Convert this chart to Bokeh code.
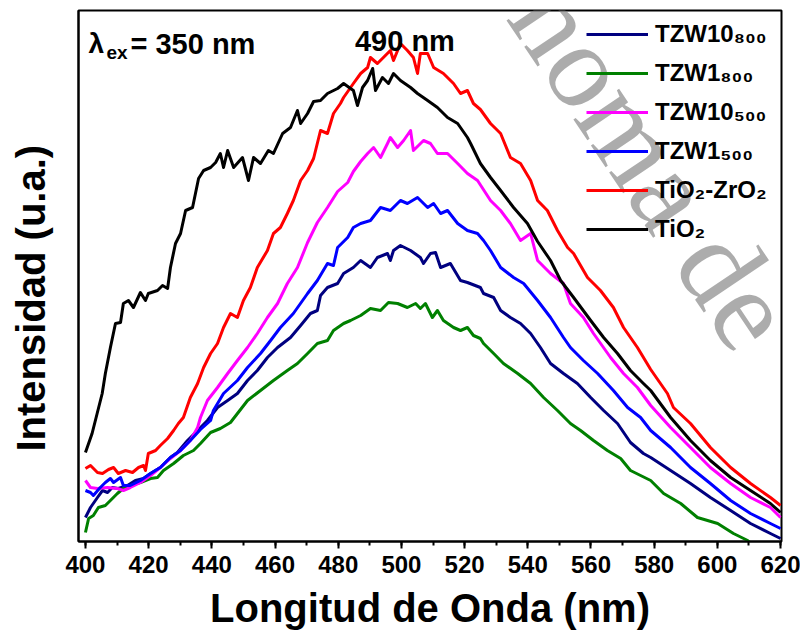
import math
from bokeh.plotting import figure
from bokeh.models import Range1d, SingleIntervalTicker, FixedTicker, Label, Legend, LegendItem
from bokeh.embed import file_html
from bokeh.resources import INLINE

# ---- data (wavelength nm, intensity a.u.) ----
wl_tio2 = [400, 402.1, 403.7, 405.3, 406.3, 407.9, 409.5, 411.1, 412, 413.6, 415.2, 417.4, 419, 419.9, 422.8, 424.4, 426, 426.9, 428.5, 430.1, 431.7, 433.9, 435.8, 437.4, 439.6, 441.2, 442.7, 443.7, 445, 446.9, 449.7, 451.6, 453.2, 455.4, 457.9, 459.5, 462.4, 464.9, 467.1, 468.1, 470.3, 472.2, 474.4, 476.6, 479.8, 481.7, 484.8, 486.1, 487.7, 489.3, 490.9, 491.8, 494, 495.9, 497.5, 499.7, 502.9, 505.1, 508.3, 511.4, 514.6, 517.8, 520.9, 521.9, 525, 528.2, 531.4, 535.5, 539.9, 543.1, 547.2, 550.4, 554.5, 559.9, 564, 568.4, 572.5, 576.6, 578.9, 585.2, 591.5, 597.8, 604.2, 610.5, 616.8, 620]
int_tio2 = [89, 108, 128, 148, 168, 194, 218, 219, 238, 241, 234, 249, 241, 248, 251, 256, 253, 274, 298, 308, 331, 334, 363, 371, 374, 379, 388, 374, 391, 374, 384, 361, 384, 378, 391, 388, 408, 414, 431, 418, 428, 440, 441, 448, 453, 458, 451, 436, 454, 461, 473, 451, 464, 458, 468, 461, 454, 448, 441, 434, 424, 418, 404, 398, 378, 364, 351, 334, 318, 300, 281, 261, 244, 221, 204, 188, 171, 158, 151, 124, 101, 81, 64, 51, 38, 29]

wl_tizr = [400, 401.6, 403.8, 405.4, 407.3, 408.9, 410.4, 412.7, 414.9, 416.8, 418.4, 419, 419.9, 422.2, 423.7, 426, 427.9, 429.4, 431, 433.2, 435.5, 437.4, 439.6, 441.8, 443.7, 445.9, 448.1, 450, 452.2, 454.4, 457.6, 459.5, 461.7, 463.9, 465.8, 468.1, 470.3, 472.2, 474.4, 476.6, 478.5, 480.7, 481.7, 484.8, 487.1, 489.3, 490.2, 492.4, 494.3, 496.5, 497.5, 499.7, 501.9, 503.8, 505.1, 506, 508.3, 510.2, 513.3, 516.5, 518.7, 520.9, 522.8, 525, 528.2, 531.4, 534.5, 537.7, 540.9, 543.1, 546.2, 549.4, 552.6, 554.5, 558.9, 563, 567.1, 570.3, 574.7, 578.9, 584.2, 586.1, 591.5, 597.8, 604.2, 610.5, 616.8, 620]
int_tizr = [73, 76, 69, 68, 72, 74, 68, 71, 69, 74, 76, 71, 88, 91, 96, 103, 111, 118, 124, 144, 158, 174, 188, 198, 214, 228, 224, 241, 254, 274, 291, 308, 314, 328, 341, 361, 371, 383, 411, 408, 428, 438, 444, 458, 468, 474, 484, 478, 484, 491, 481, 498, 491, 484, 468, 488, 488, 474, 468, 458, 448, 451, 438, 432, 418, 408, 384, 378, 361, 341, 331, 311, 294, 288, 264, 251, 234, 214, 194, 172, 148, 134, 118, 94, 74, 58, 44, 36]

wl_tzw10_500 = [400, 401.6, 403.8, 407, 410.1, 412, 414.2, 417.4, 420.6, 423.7, 426.9, 430.1, 433.2, 435.5, 436.4, 438.6, 441.8, 445, 448.1, 451.3, 454.4, 457.6, 460.8, 463.9, 467.1, 470.3, 473.4, 476.6, 479.8, 483, 484.8, 487.1, 489.3, 491.2, 493.4, 495.6, 496.5, 498.8, 500.7, 502.9, 503.8, 507, 509.2, 511.4, 514.6, 517.8, 520.9, 524.1, 528.2, 531.4, 534.5, 537.7, 540.9, 543.1, 547.2, 551.3, 553.5, 557.6, 560.8, 566.2, 570.3, 574.7, 578.9, 585.2, 591.5, 597.8, 604.2, 610.5, 616.8, 620]
int_tzw10_500 = [61, 54, 53, 54, 53, 51, 54, 59, 66, 74, 83, 91, 101, 114, 124, 141, 154, 168, 181, 194, 208, 224, 238, 258, 274, 299, 319, 334, 350, 359, 370, 380, 388, 394, 384, 398, 404, 394, 401, 411, 391, 401, 398, 388, 388, 378, 368, 361, 341, 331, 318, 301, 308, 281, 268, 258, 238, 224, 208, 184, 168, 154, 136, 114, 94, 74, 58, 44, 34, 24]

wl_tzw1_500 = [400, 401.6, 402.5, 404.7, 406.3, 407.9, 408.9, 411.1, 412, 414.2, 417.4, 420.6, 423.7, 426.9, 430.1, 433.2, 436.4, 439.6, 440.5, 443.7, 448.1, 451.3, 455.4, 458.6, 461.7, 465.8, 470.3, 473.4, 476.6, 478.5, 479.8, 483, 484.8, 487.1, 490.2, 493.4, 496.5, 499.7, 501.9, 505.1, 508.3, 510.2, 512.4, 514.6, 517.8, 520.9, 524.1, 526, 528.2, 531.4, 535.5, 538.7, 543.1, 547.2, 551.3, 553.5, 557.6, 562.1, 567.1, 571.6, 575.7, 578.9, 585.2, 591.5, 597.8, 604.2, 610.5, 616.8, 620]
int_tzw1_500 = [51, 49, 46, 54, 59, 63, 59, 64, 56, 56, 61, 68, 74, 84, 91, 101, 112, 121, 131, 148, 161, 174, 188, 201, 214, 228, 248, 261, 278, 276, 294, 304, 314, 318, 321, 334, 331, 341, 338, 344, 334, 338, 328, 331, 318, 311, 308, 301, 291, 274, 264, 258, 241, 224, 204, 194, 181, 168, 151, 134, 124, 111, 94, 74, 58, 41, 28, 18, 13]

wl_tzw10_800 = [400, 401.6, 403.8, 405.4, 407, 408.5, 410.4, 413.3, 415.8, 418.4, 420.6, 423.7, 426.9, 429.1, 432.3, 435.5, 438.6, 441.8, 445, 448.1, 451.3, 454.4, 457.6, 460.8, 464.9, 468.1, 471.2, 473.4, 474.4, 476.6, 479.8, 481.7, 484.8, 487.1, 490.2, 492.4, 495.6, 496.5, 497.5, 499.7, 502.9, 506, 507, 509.2, 510.8, 512.4, 515.5, 518.7, 520.9, 525, 526, 529.2, 531.4, 534.5, 537.7, 540.9, 544, 547.2, 551.3, 555.7, 559.9, 564, 568.4, 572.5, 576.6, 578.9, 585.2, 591.5, 597.8, 604.2, 610.5, 616.8, 620]
int_tzw10_800 = [24, 34, 44, 51, 49, 54, 53, 56, 61, 63, 68, 74, 84, 89, 101, 111, 121, 134, 141, 148, 161, 171, 184, 194, 204, 216, 228, 231, 246, 254, 258, 268, 274, 281, 274, 284, 288, 281, 291, 296, 291, 284, 278, 288, 289, 274, 278, 261, 259, 254, 248, 244, 231, 224, 218, 208, 194, 178, 168, 158, 144, 131, 118, 99, 88, 84, 71, 58, 44, 31, 18, 8, 3]

wl_tzw1_800 = [400, 401, 402.5, 404.1, 406.3, 407.9, 410.1, 412, 414.2, 417.4, 420.6, 422.8, 424.7, 427.9, 431, 434.2, 436.4, 439.6, 442.7, 445.9, 451.3, 455.4, 459.5, 463.9, 467.1, 470.3, 473.4, 476.6, 478.5, 481.7, 483.9, 487.1, 490.2, 493.4, 495.9, 498.8, 501.9, 504.5, 506, 507.6, 509.8, 511.4, 513.3, 516.5, 518.7, 520.9, 522.8, 525, 526, 529.2, 532.3, 536.8, 540.9, 545, 549.4, 553.5, 556.7, 560.8, 565.2, 569.4, 572.5, 578.9, 583, 588.4, 593.7, 600.1, 605.1, 609.6, 612]
int_tzw1_800 = [9, 23, 26, 34, 36, 41, 48, 53, 56, 59, 63, 64, 71, 78, 86, 91, 98, 109, 113, 119, 141, 151, 161, 171, 178, 188, 198, 201, 211, 218, 221, 226, 233, 231, 239, 238, 234, 238, 233, 238, 224, 231, 221, 214, 211, 214, 206, 203, 198, 188, 178, 168, 158, 144, 131, 118, 111, 101, 91, 83, 71, 61, 48, 38, 24, 18, 8, 1, -6]

x_ticks_major = 20
series_names = ["TZW10\u2088\u2080\u2080", "TZW1\u2088\u2080\u2080", "TZW10\u2085\u2080\u2080",
                "TZW1\u2085\u2080\u2080", "TiO\u2082-ZrO\u2082", "TiO\u2082"]
series_colors = ["#000080", "#008000", "#FF00FF", "#0000FF", "#FF0000", "#000000"]

FONT = "Liberation Sans"

p = figure(width=800, height=639, output_backend="svg", toolbar_location=None,
           x_range=Range1d(397.8, 620.3), y_range=Range1d(0, 531),
           min_border_left=78, min_border_right=19, min_border_top=10, min_border_bottom=98)
p.background_fill_color = "white"
p.border_fill_color = "white"
p.grid.visible = False
p.outline_line_color = "black"
p.outline_line_width = 2

series = [(wl_tzw10_800, int_tzw10_800), (wl_tzw1_800, int_tzw1_800), (wl_tzw10_500, int_tzw10_500),
          (wl_tzw1_500, int_tzw1_500), (wl_tizr, int_tizr), (wl_tio2, int_tio2)]
renderers = []
for (xs, ys), c in zip(series, series_colors):
    r = p.line(xs, ys, line_color=c, line_width=3, line_join="round")
    renderers.append(r)

# x axis
xa = p.xaxis[0]
xa.ticker = SingleIntervalTicker(interval=x_ticks_major, num_minor_ticks=2)
xa.axis_line_width = 2
xa.major_tick_line_width = 2
xa.minor_tick_line_width = 2
xa.major_tick_in = 0
xa.major_tick_out = 7
xa.minor_tick_in = 0
xa.minor_tick_out = 4
xa.major_label_text_font = FONT
xa.major_label_text_font_style = "bold"
xa.major_label_text_font_size = "24px"
xa.major_label_text_color = "black"
xa.major_label_standoff = 7
xa.axis_label = "Longitud de Onda (nm)"
xa.axis_label_text_font = FONT
xa.axis_label_text_font_style = "bold"
xa.axis_label_text_font_size = "40px"
xa.axis_label_text_color = "black"
xa.axis_label_standoff = 10

ya = p.yaxis[0]
ya.ticker = FixedTicker(ticks=[])
ya.axis_line_width = 2
ya.major_tick_out = 0
ya.minor_tick_out = 0
ya.major_label_text_font_size = "0px"
ya.axis_label = "Intensidad (u.a.)" + "\u00a0" * 4
ya.axis_label_text_font = FONT
ya.axis_label_text_font_style = "bold"
ya.axis_label_text_font_size = "40px"
ya.axis_label_text_color = "black"
ya.axis_label_standoff = 26

# annotations
p.add_layout(Label(x=400.95, y=498, text="\u03bb", text_baseline="alphabetic", text_font=FONT,
                   text_font_style="bold", text_font_size="28px", text_color="black"))
p.add_layout(Label(x=406.65, y=489, text="ex", text_baseline="alphabetic", text_font=FONT,
                   text_font_style="bold", text_font_size="19px", text_color="black"))
p.add_layout(Label(x=414.25, y=498, text="= 350 nm", text_baseline="alphabetic", text_font=FONT,
                   text_font_style="bold", text_font_size="29px", text_color="black"))
p.add_layout(Label(x=485.3, y=501, text="490 nm", text_baseline="alphabetic", text_font=FONT,
                   text_font_style="bold", text_font_size="29px", text_color="black"))

# watermark
p.add_layout(Label(x=460, y=546, x_units="screen", y_units="screen", text="noma de",
                   angle=-0.977, text_align="left", text_baseline="alphabetic",
                   text_font="Liberation Serif", text_font_size="120px",
                   text_color="#808080", text_alpha=0.65))

legend = Legend(items=[LegendItem(label=n, renderers=[r]) for n, r in zip(series_names, renderers)],
                location=(508, 298), orientation="vertical")
legend.padding = 0
legend.margin = 0
legend.spacing = 11
legend.glyph_width = 62
legend.glyph_height = 28
legend.label_height = 28
legend.label_standoff = 7
legend.label_text_font = FONT
legend.label_text_font_style = "bold"
legend.label_text_font_size = "24px"
legend.label_text_color = "black"
legend.border_line_color = None
legend.background_fill_alpha = 0
p.add_layout(legend)

open("out.html", "w").write(file_html(p, INLINE))
